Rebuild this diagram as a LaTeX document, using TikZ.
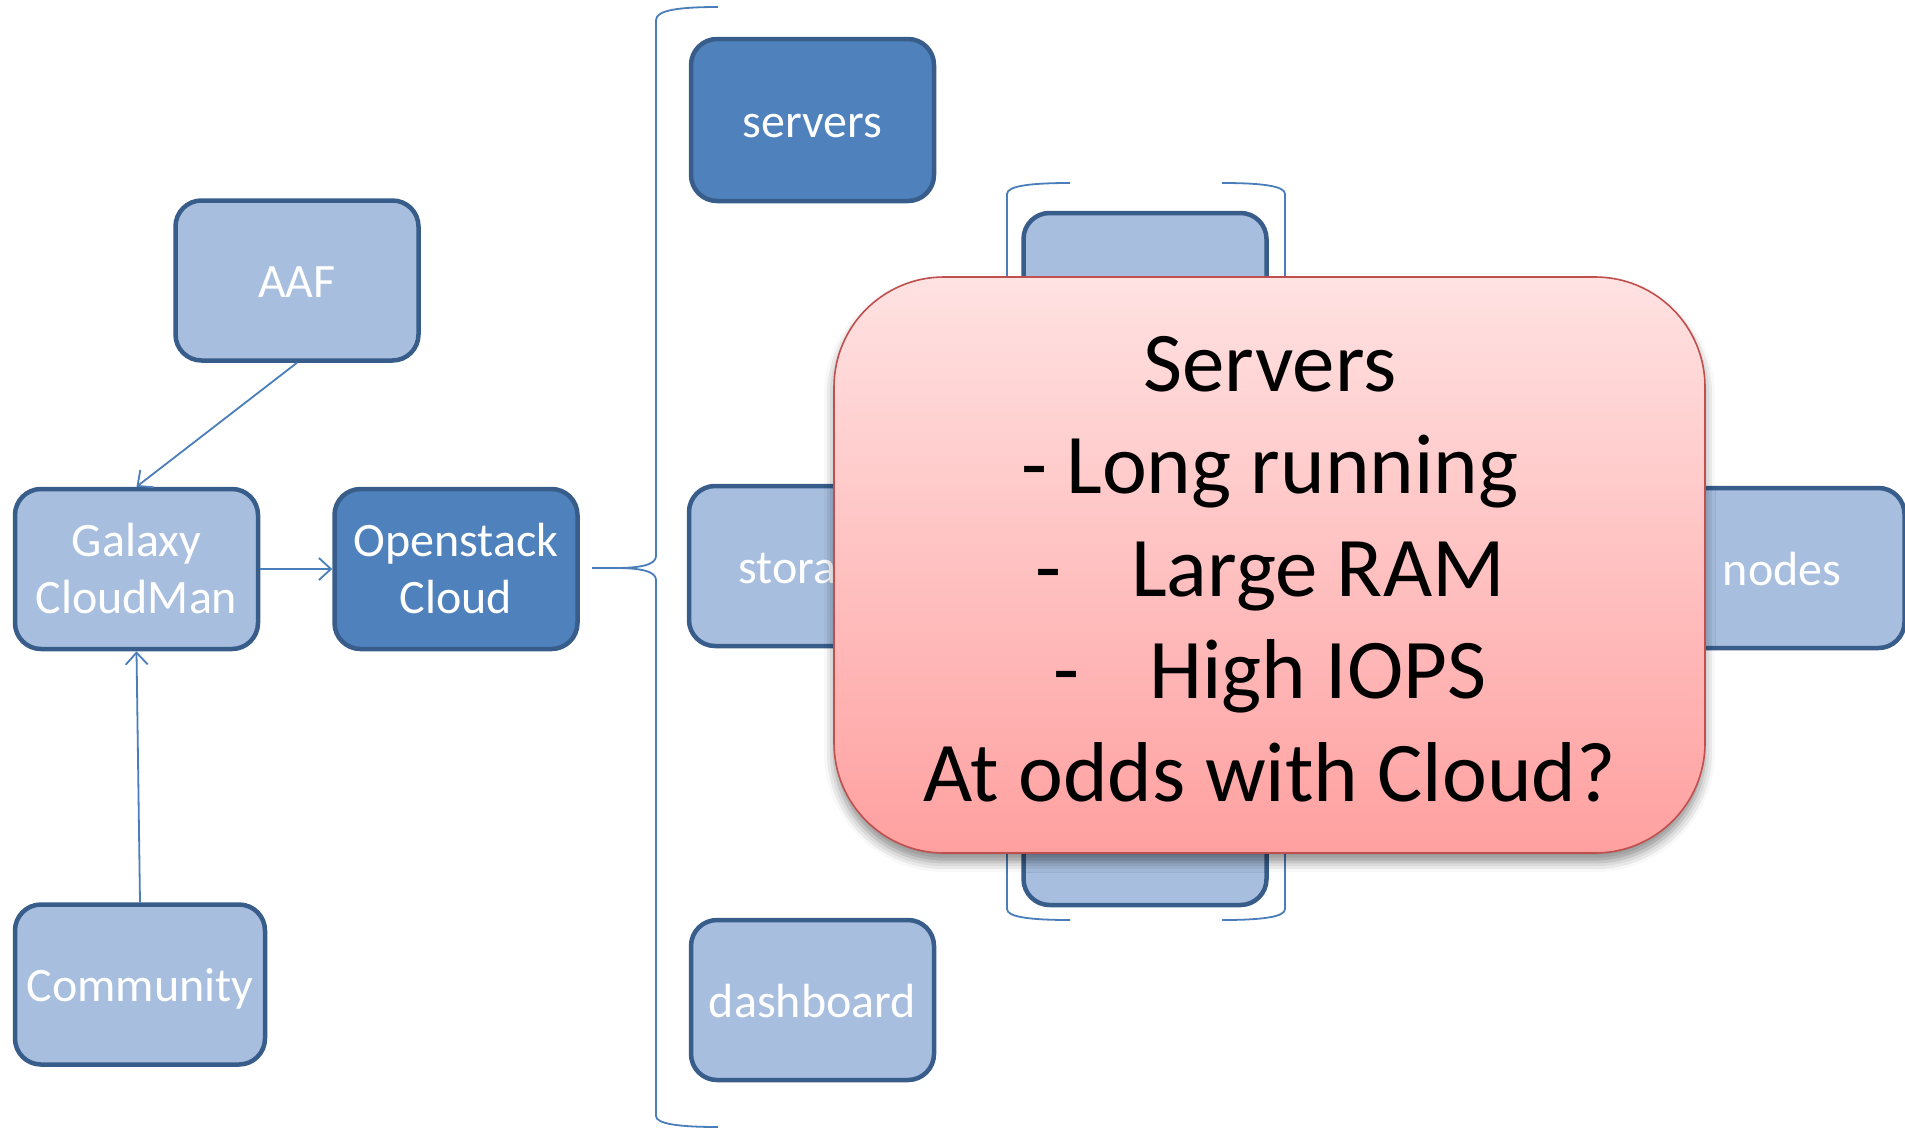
\documentclass[tikz,border=0pt]{standalone}
\usepackage{fontspec}
\setmainfont{Carlito}
\usetikzlibrary{arrows.meta,shadows.blur}
\definecolor{lightbox}{HTML}{A7BEDE}
\definecolor{darkbox}{HTML}{4F81BD}
\definecolor{boxline}{HTML}{385D8A}
\definecolor{connline}{HTML}{4A7EBB}
\definecolor{calloutline}{HTML}{C0504D}
\definecolor{calltop}{HTML}{FFE2E2}
\definecolor{callbot}{HTML}{FFA0A0}
\begin{document}
\begin{tikzpicture}[x=1pt,y=-1pt,
 box/.style={draw=boxline, line width=4.5pt, rounded corners=26pt, minimum width=243pt, minimum height=160pt, text=white, font=\fontsize{48}{57}\selectfont, align=center, inner sep=0pt},
 oneline/.style={text height=38pt, text depth=4pt},
 lbox/.style={box, fill=lightbox},
 dbox/.style={box, fill=darkbox},
 link/.style={draw=connline, line width=1.8pt},
 arr/.style={link, -{Straight Barb[length=12pt,width=22pt]}},
 callout/.style={draw=calloutline, line width=1.6pt, rounded corners=110pt, top color=calltop, bottom color=callbot, minimum width=871pt, minimum height=576pt, inner sep=0pt, blur shadow={shadow xshift=0pt, shadow yshift=-9pt, shadow blur radius=10pt, shadow opacity=45}},
 calltext/.style={align=center, inner sep=0pt, font=\fontsize{85}{102.5}\selectfont, text=black}]
\useasboundingbox (0,0) rectangle (1905,1127);
% left side
\node[lbox, oneline] (aaf) at (297,280.5) {AAF};
\node[lbox] (galaxy) at (136.5,569) {Galaxy\\CloudMan};
\node[dbox] (openstack) at (456,569) {Openstack\\Cloud};
\node[lbox, oneline, minimum width=250pt] (community) at (140,984.5) {Community};
\draw[arr] (aaf.south) -- (galaxy.north);
\draw[arr] (galaxy.east) -- (openstack.west);
\draw[arr] (community.north) -- (galaxy.south);
% middle column
\node[dbox, oneline, minimum height=162pt] (servers) at (812.5,120) {servers};
\node[lbox, oneline] (storage) at (810.5,566) {storage};
\node[lbox, oneline] (dashboard) at (812.5,1000) {dashboard};
\node[lbox] (midtop) at (1145,293) {};
\node[lbox] (midbot) at (1145,825) {};
\node[lbox, oneline, minimum width=245pt] (nodes) at (1782,568) {nodes};
% outer brace
\coordinate (tip) at (592,568);
\draw[link] (tip) -- (615,568) .. controls (640,568) and (656,565) .. (656,556) -- (656,20) .. controls (656,10) and (680,7) .. (718,7);
\draw[link] (615,568) .. controls (640,568) and (656,571) .. (656,580) -- (656,1116) .. controls (656,1124) and (680,1127) .. (718,1127);
% inner brackets
\draw[link] (1070,183) .. controls (1030,183) and (1007,186) .. (1007,194) -- (1007,909) .. controls (1007,917) and (1030,920) .. (1070,920);
\draw[link] (1222,183) .. controls (1262,183) and (1285,186) .. (1285,194) -- (1285,909) .. controls (1285,917) and (1262,920) .. (1222,920);
% callout
\node[callout] (call) at (1269.5,565) {};
\node[calltext] (calltxt) at (1270,569) {Servers\\- Long running\\-\hspace{70pt}Large RAM\\-\hspace{70pt}High IOPS\\At odds with Cloud?};
\end{tikzpicture}
\end{document}
